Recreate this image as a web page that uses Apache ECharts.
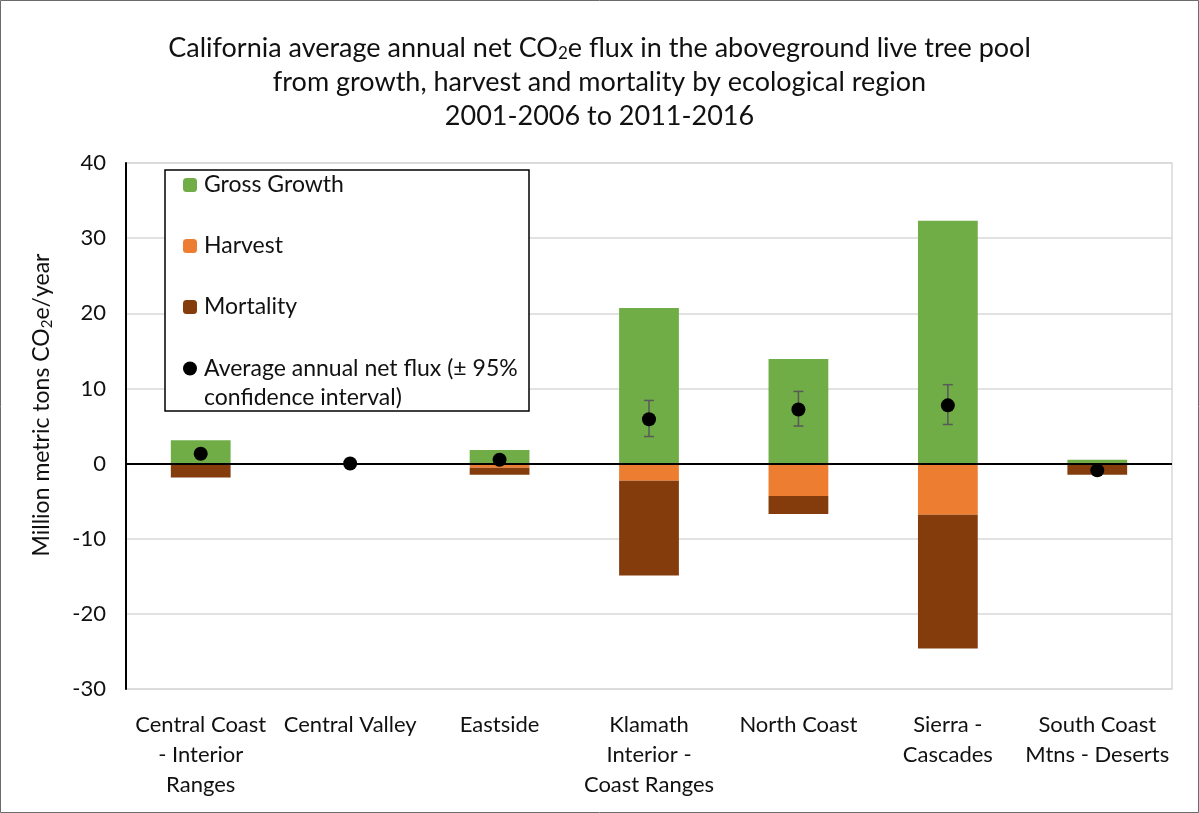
<!DOCTYPE html>
<html>
<head>
<meta charset="utf-8">
<script src="https://cdn.jsdelivr.net/npm/echarts@6/dist/echarts.min.js"></script>
<style>
  html, body { margin: 0; padding: 0; background: #fff; }
  #chart { width: 1199px; height: 813px; }
</style>
</head>
<body>
<div id="chart"></div>
<script>
// ---- data ----
const categories = [
  'Central Coast\n- Interior\nRanges',
  'Central Valley',
  'Eastside',
  'Klamath\nInterior -\nCoast Ranges',
  'North Coast',
  'Sierra -\nCascades',
  'South Coast\nMtns - Deserts'
];
const grossGrowth = [3.1, 0, 1.8, 20.7, 13.9, 32.3, 0.5];
const harvest     = [-0.1, 0, -0.55, -2.3, -4.3, -6.8, -0.1];
const mortality   = [-1.75, 0, -0.95, -12.6, -2.4, -17.8, -1.4];
const netFlux     = [1.3, 0, 0.5, 5.9, 7.2, 7.75, -0.9];
const ciLow       = [null, null, null, 3.6, 5.0, 5.2, null];
const ciHigh      = [null, null, null, 8.4, 9.6, 10.5, null];
const yTicks      = { min: -30, max: 40, interval: 10 };

const FONT = 'Lato';
const TXT = '#111';

const errData = categories.map((c, i) => [i, ciLow[i], ciHigh[i]]).filter(d => d[1] != null);

const chart = echarts.init(document.getElementById('chart'), null, { renderer: 'canvas' });
chart.setOption({
  animation: false,
  backgroundColor: '#fff',
  title: {
    left: 'center',
    top: 26,
    text: 'California average annual net CO{s|2}e flux in the aboveground live tree pool\nfrom growth, harvest and mortality by ecological region\n2001-2006 to 2011-2016',
    textStyle: {
      fontFamily: FONT, fontSize: 27, fontWeight: 'normal', color: TXT, lineHeight: 34,
      rich: { s: { fontFamily: FONT, fontSize: 17, color: TXT, padding: [11, 0, 0, 0], lineHeight: 34 } }
    }
  },
  grid: {
    left: 126, right: 27, top: 163, bottom: 124,
    show: true, borderColor: '#d9d9d9', borderWidth: 1.5, backgroundColor: 'transparent'
  },
  legend: [
    {
      orient: 'vertical', left: 183, top: 173, padding: 0, itemGap: 37,
      itemWidth: 14, itemHeight: 14, z: 10,
      data: ['Gross Growth', 'Harvest', 'Mortality'],
      textStyle: { fontFamily: FONT, fontSize: 23, color: TXT, lineHeight: 24, padding: [0, 0, 0, 2] }
    },
    {
      orient: 'vertical', left: 183, top: 325, padding: 0,
      itemWidth: 14, itemHeight: 14, z: 10,
      data: [{ name: 'Average annual net flux', icon: 'circle', itemStyle: { color: '#000', opacity: 1 } }],
      formatter: () => ' \nAverage annual net flux (± 95%\nconfidence interval)',
      textStyle: { fontFamily: FONT, fontSize: 23, color: TXT, lineHeight: 29, padding: [0, 0, 0, 2] }
    }
  ],
  graphic: [
    { type: 'rect', z: 5, shape: { x: 165, y: 170, width: 364, height: 241 },
      style: { fill: '#fff', stroke: '#000', lineWidth: 1.5 } },
    { type: 'rect', z: 0, silent: true, shape: { x: 0.5, y: 0.5, width: 1198, height: 812 },
      style: { fill: 'none', stroke: '#6b6b6b', lineWidth: 1 } }
  ],
  xAxis: {
    type: 'category',
    data: categories,
    axisLine: { show: false, onZero: false },
    axisTick: { show: false },
    axisLabel: { interval: 0, margin: 21, fontFamily: FONT, fontSize: 22, color: TXT, lineHeight: 30 },
    splitLine: { show: false }
  },
  yAxis: {
    type: 'value',
    min: yTicks.min, max: yTicks.max, interval: yTicks.interval,
    axisLine: { show: true, lineStyle: { color: '#000', width: 2 } },
    axisTick: { show: false },
    axisLabel: { margin: 20, fontFamily: FONT, fontSize: 22, color: TXT },
    splitLine: { show: true, lineStyle: { color: '#d9d9d9', width: 1.5 } },
    name: 'Million metric tons CO{s|2}e/year',
    nameLocation: 'middle',
    nameGap: 70,
    nameRotate: 90,
    nameTextStyle: {
      fontFamily: FONT, fontSize: 23, color: TXT, lineHeight: 28, padding: [0, 0, 0, 42],
      rich: { s: { fontFamily: FONT, fontSize: 15, color: TXT, padding: [10, 0, 0, 0], lineHeight: 28 } }
    }
  },
  series: [
    { name: 'Gross Growth', type: 'bar', stack: 'flux', data: grossGrowth, barWidth: '40%',
      itemStyle: { color: '#70ad47' } },
    { name: 'Harvest', type: 'bar', stack: 'flux', data: harvest, barWidth: '40%',
      itemStyle: { color: '#ed7d31' } },
    { name: 'Mortality', type: 'bar', stack: 'flux', data: mortality, barWidth: '40%',
      itemStyle: { color: '#843c0c' },
      markLine: {
        silent: true, symbol: 'none', z: 5,
        label: { show: false },
        lineStyle: { color: '#000', width: 2, type: 'solid' },
        emphasis: { disabled: true },
        data: [{ yAxis: 0 }]
      } },
    { name: 'CI', type: 'custom', z: 6, data: errData,
      renderItem: function (params, api) {
        const x = api.value(0);
        const lo = api.coord([x, api.value(1)]);
        const hi = api.coord([x, api.value(2)]);
        const cap = 5;
        const st = { stroke: '#595959', lineWidth: 1.5, fill: null };
        return { type: 'group', children: [
          { type: 'line', shape: { x1: lo[0], y1: lo[1], x2: hi[0], y2: hi[1] }, style: st },
          { type: 'line', shape: { x1: lo[0] - cap, y1: lo[1], x2: lo[0] + cap, y2: lo[1] }, style: st },
          { type: 'line', shape: { x1: hi[0] - cap, y1: hi[1], x2: hi[0] + cap, y2: hi[1] }, style: st }
        ] };
      } },
    { name: 'Average annual net flux', type: 'scatter', z: 7, data: netFlux, symbol: 'circle', symbolSize: 14,
      itemStyle: { color: '#000', opacity: 1 } }
  ]
});
</script>
</body>
</html>
